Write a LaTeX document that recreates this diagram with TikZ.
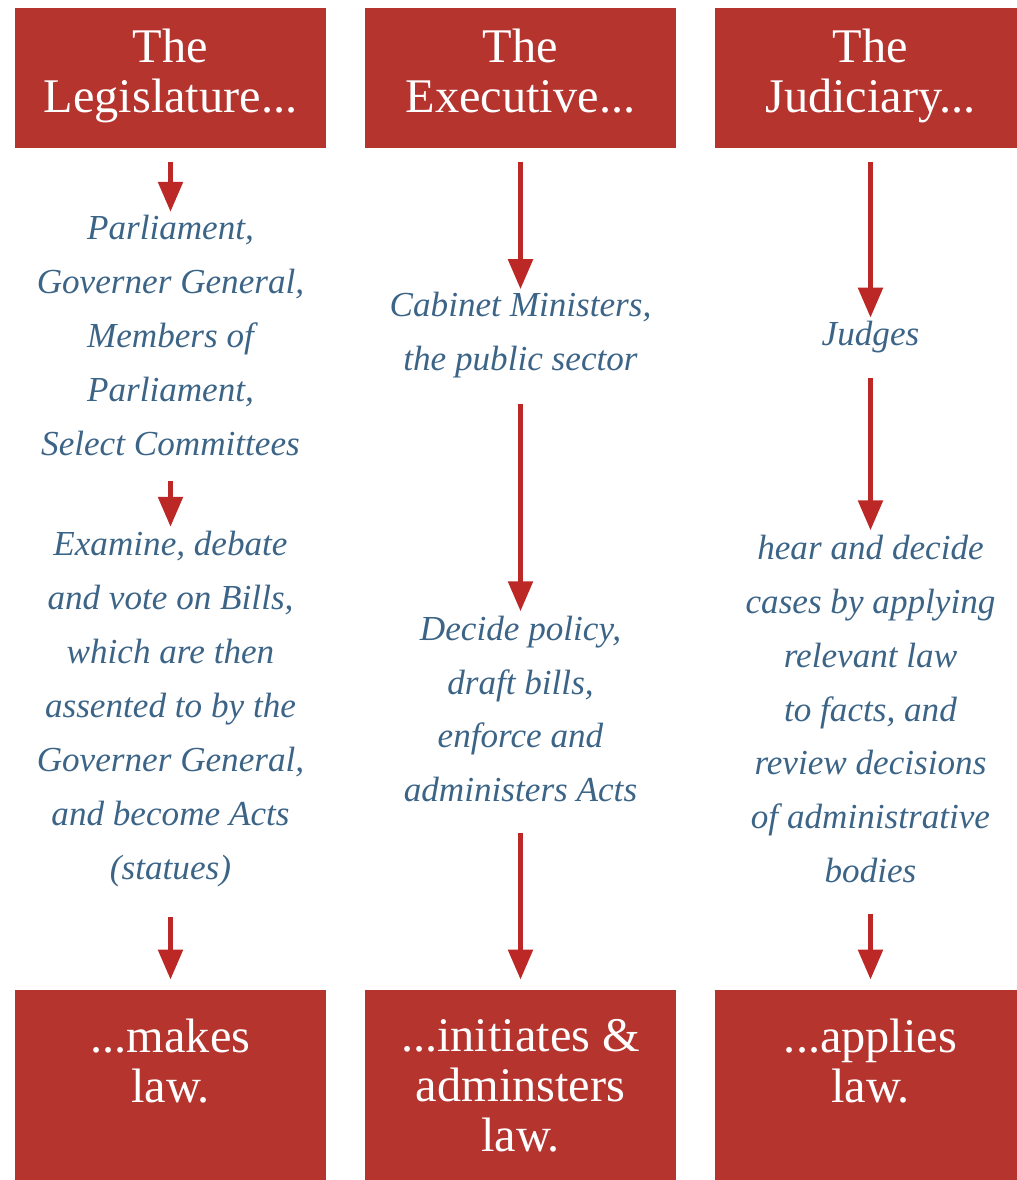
\documentclass[tikz,border=0pt]{standalone}
\usepackage{fontspec}
\setmainfont{Liberation Serif}
\usetikzlibrary{arrows.meta, positioning}

\definecolor{boxred}{RGB}{181,52,46}
\definecolor{arrowred}{RGB}{188,40,38}
\definecolor{inkblue}{RGB}{60,100,135}

\begin{document}
\begin{tikzpicture}[
    >=stealth,
    headbox/.style={
        fill=boxred, draw=none, minimum width=6.22cm, minimum height=2.8cm,
        align=center, inner sep=0pt, text=white,
        font=\fontsize{27.5}{28.5}\selectfont
    },
    endbox/.style={
        fill=boxred, draw=none, minimum width=6.22cm, minimum height=4.2cm, inner sep=0pt
    },
    endtext/.style={
        align=center, inner sep=0pt, text=white,
        font=\fontsize{27.5}{28.5}\selectfont
    },
    body/.style={
        align=center, inner sep=0pt, text=inkblue,
        font=\fontsize{20}{30.7}\selectfont\itshape
    },
    flow/.style={
        -{Triangle[width=0.48cm, length=0.6cm]}, line width=3pt, draw=arrowred
    },
    fromhead/.style={flow, shorten <=0.28cm, shorten >=0.06cm},
    fromtext/.style={flow, shorten <=0.5cm, shorten >=0.08cm},
    toend/.style={flow, shorten <=0.6cm, shorten >=0.2cm}
]

    \useasboundingbox (0, 0) rectangle (20.34, 23.6);

    % Heading boxes (strut keeps the three baselines level)
    \node[headbox] (leg) at (3.41, 22.04) {The\\Legislature...\strut};
    \node[headbox] (exe) at (10.41, 22.04) {The\\Executive...\strut};
    \node[headbox] (jud) at (17.41, 22.04) {The\\Judiciary...\strut};

    % Who belongs to each branch
    \node[body] (legwho) at (3.41, 16.89) {Parliament,\\Governer General,\\Members of\\Parliament,\\Select Committees};
    \node[body] (exewho) at (10.41, 16.89) {Cabinet Ministers,\\the public sector};
    \node[body] (judwho) at (17.41, 16.86) {Judges};

    % What each branch does
    \node[body] (legwhat) at (3.41, 9.42) {Examine, debate\\and vote on Bills,\\which are then\\assented to by the\\Governer General,\\and become Acts\\(statues)};
    \node[body] (exewhat) at (10.41, 9.42) {Decide policy,\\draft bills,\\enforce and\\administers Acts};
    \node[body] (judwhat) at (17.41, 9.42) {hear and decide\\cases by applying\\relevant law\\to facts, and\\review decisions\\of administrative\\bodies};

    % Bottom boxes
    \node[endbox] (make) at (3.41, 1.7) {};
    \node[endbox] (init) at (10.41, 1.7) {};
    \node[endbox] (apply) at (17.41, 1.7) {};
    \node[endtext, below=0.58cm of make.north] (maketxt) {...makes\\law.};
    \node[endtext, below=0.58cm of init.north] (inittxt) {...initiates \&\\adminsters\\law.};
    \node[endtext, below=0.58cm of apply.north] (applytxt) {...applies\\law.};

    % Arrows down each column
    \draw[fromhead] (leg.south) -- (legwho.north);
    \draw[fromhead] (exe.south) -- (exewho.north);
    \draw[fromhead] (jud.south) -- (judwho.north);

    \draw[fromtext] (legwho.south) -- (legwhat.north);
    \draw[fromtext] (exewho.south) -- (exewhat.north);
    \draw[fromtext] (judwho.south) -- (judwhat.north);

    \draw[toend] (legwhat.south) -- (make.north);
    \draw[toend] (exewhat.south) -- (init.north);
    \draw[toend] (judwhat.south) -- (apply.north);

\end{tikzpicture}
\end{document}
